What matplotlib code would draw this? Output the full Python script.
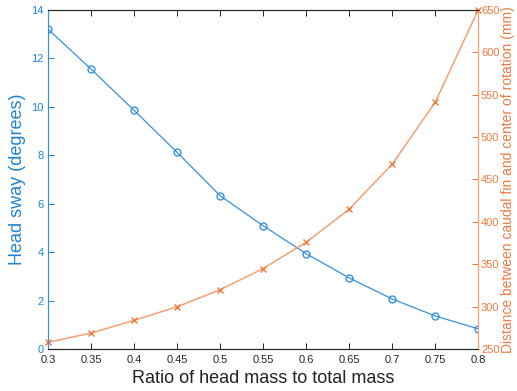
import matplotlib.pyplot as plt
import numpy as np

plt.rcParams['font.family'] = ['Liberation Sans', 'DejaVu Sans']

# data
mass_ratio = [0.3, 0.35, 0.4, 0.45, 0.5, 0.55, 0.6, 0.65, 0.7, 0.75, 0.8]
head_sway = [13.2, 11.55, 9.85, 8.12, 6.33, 5.09, 3.94, 2.94, 2.07, 1.37, 0.84]
fin_distance = [258, 269, 284, 300, 320, 345, 376, 415, 468, 541, 650]

xticks = [0.3, 0.35, 0.4, 0.45, 0.5, 0.55, 0.6, 0.65, 0.7, 0.75, 0.8]
xtick_labels = ['0.3', '0.35', '0.4', '0.45', '0.5', '0.55', '0.6', '0.65', '0.7', '0.75', '0.8']

blue = '#3592dc'
blue_text = '#1f84d6'
orange = '#f5a070'
orange_text = '#f07a3e'
axis_gray = '#262626'

fig = plt.figure(figsize=(5.17, 3.91), dpi=100)
ax = fig.add_axes([0.093, 0.107, 0.832, 0.868])
ax2 = ax.twinx()

ax.plot(mass_ratio, head_sway, color=blue, lw=0.9, marker='o', ms=5,
        mfc='none', mec=blue, mew=1.0)
ax2.plot(mass_ratio, fin_distance, color=orange, lw=1.1, marker='x', ms=5,
         mec=orange_text, mew=1.0, clip_on=False)

ax.set_xlim(0.3, 0.8)
ax.set_ylim(0, 14)
ax2.set_ylim(250, 650)
ax.set_xticks(xticks)
ax.set_xticklabels(xtick_labels)
ax.set_yticks(np.arange(0, 15, 2))
ax2.set_yticks(np.arange(250, 651, 50))

ax.set_xlabel('Ratio of head mass to total mass', fontsize=13, color='#222222', labelpad=4)
ax.set_ylabel('Head sway (degrees)', fontsize=13, color=blue_text, labelpad=4)
ax2.set_ylabel('Distance between caudal fin and center of rotation (mm)',
               fontsize=10, color=orange_text, labelpad=1)

for a in (ax, ax2):
    a.spines['top'].set_color(axis_gray)
    a.spines['bottom'].set_color(axis_gray)
    a.spines['left'].set_color(blue)
    a.spines['right'].set_color(orange)
    for s in a.spines.values():
        s.set_linewidth(0.8)

ax.tick_params(axis='x', direction='in', top=True, length=4, width=0.7,
               colors=axis_gray, labelsize=8, pad=4)
ax.tick_params(axis='y', direction='in', length=4, width=0.7,
               colors=blue_text, labelsize=8, pad=3)
ax2.tick_params(axis='y', direction='in', length=4, width=0.7,
                colors=orange_text, labelsize=8, pad=2)

fig.savefig('out.png', dpi=100)
